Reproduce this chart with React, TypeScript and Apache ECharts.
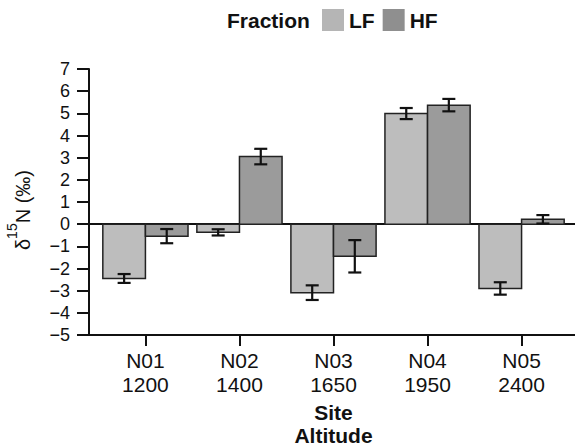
import React, { useEffect, useRef } from "react";
import * as echarts from "echarts";

const sites = ["N01", "N02", "N03", "N04", "N05"];
const altitudes = ["1200", "1400", "1650", "1950", "2400"];
const lfMeans = [-2.45, -0.37, -3.09, 4.99, -2.9];
const lfErrors = [0.2, 0.14, 0.33, 0.25, 0.28];
const hfMeans = [-0.54, 3.05, -1.45, 5.37, 0.22];
const hfErrors = [0.32, 0.35, 0.73, 0.28, 0.19];
const yTicks = { min: -5, max: 7, interval: 1 };

const FONT = "'Liberation Sans', Arial, sans-serif";
const BAR_W = 0.453; // in category units
const CAP_HALF = 6.5; // px

function barSeries(name: string, means: number[], side: number, color: string, withZero: boolean) {
  const data = means.map((v, i) => [i, v]);
  const s: any = {
    name,
    type: "custom",
    data,
    z: 2,
    renderItem: (params: any, api: any) => {
      const x = api.value(0);
      const y = api.value(1);
      const x0 = side < 0 ? x - BAR_W : x;
      const p0 = api.coord([x0, 0]);
      const p1 = api.coord([x0 + BAR_W, y]);
      return {
        type: "rect",
        shape: {
          x: Math.min(p0[0], p1[0]),
          y: Math.min(p0[1], p1[1]),
          width: Math.abs(p1[0] - p0[0]),
          height: Math.abs(p1[1] - p0[1]),
        },
        style: { fill: color, stroke: "#222", lineWidth: 1.5 },
      };
    },
  };
  if (withZero) {
    s.markLine = {
      silent: true,
      symbol: ["none", "none"],
      label: { show: false },
      lineStyle: { color: "#111", width: 2, type: "solid" },
      data: [{ yAxis: 0 }],
      z: 1,
    };
  }
  return s;
}

function errSeries(name: string, means: number[], errs: number[], side: number) {
  return {
    name: name + "err",
    type: "custom",
    z: 5,
    data: means.map((v, i) => [i, v, errs[i]]),
    renderItem: (params: any, api: any) => {
      const x = api.value(0) + (side * BAR_W) / 2;
      const y = api.value(1);
      const e = api.value(2);
      const top = api.coord([x, y + e]);
      const bot = api.coord([x, y - e]);
      const st = { stroke: "#111", lineWidth: 2.2 };
      return {
        type: "group",
        children: [
          { type: "line", shape: { x1: top[0], y1: top[1], x2: bot[0], y2: bot[1] }, style: st },
          { type: "line", shape: { x1: top[0] - CAP_HALF, y1: top[1], x2: top[0] + CAP_HALF, y2: top[1] }, style: st },
          { type: "line", shape: { x1: bot[0] - CAP_HALF, y1: bot[1], x2: bot[0] + CAP_HALF, y2: bot[1] }, style: st },
        ],
      };
    },
  };
}

export default function App() {
  const ref = useRef<HTMLDivElement>(null);
  useEffect(() => {
    if (!ref.current) return;
    const chart = echarts.init(ref.current, undefined, { renderer: "svg" });
    const idx = sites.map((_, i) => i);
    chart.setOption({
      animation: false,
      backgroundColor: "#fff",
      textStyle: { fontFamily: FONT, color: "#111" },
      title: {
        text: "Fraction",
        left: 227,
        top: 9,
        padding: 0,
        textStyle: { fontFamily: FONT, fontSize: 21, fontWeight: "bold", color: "#111", lineHeight: 22 },
      },
      legend: {
        left: 322,
        top: 9,
        padding: 0,
        itemWidth: 22,
        itemHeight: 22,
        itemGap: 8,
        selectedMode: false,
        textStyle: { fontFamily: FONT, fontSize: 21, fontWeight: "bold", color: "#111" },
        data: [
          { name: "LF", icon: "rect", itemStyle: { color: "#b5b5b5", borderWidth: 0 } },
          { name: "HF", icon: "rect", itemStyle: { color: "#8f8f8f", borderWidth: 0 } },
        ],
      },
      grid: { left: 89, top: 69, bottom: 111, right: -3, containLabel: false, outerBoundsMode: "none" },
      xAxis: {
        type: "value",
        min: -0.6,
        max: 4.6,
        splitLine: { show: false },
        axisLine: { onZero: false, lineStyle: { color: "#111", width: 2 } },
        axisTick: { show: true, length: 11, lineStyle: { color: "#111", width: 2 }, customValues: idx },
        axisLabel: {
          customValues: idx,
          margin: 13,
          fontSize: 21,
          lineHeight: 24,
          color: "#111",
          fontFamily: FONT,
          formatter: (v: number) => {
            const i = Math.round(v);
            return Math.abs(v - i) < 1e-6 && i >= 0 && i < sites.length ? sites[i] + "\n" + altitudes[i] : "";
          },
        },
        name: "Site\nAltitude",
        nameLocation: "middle",
        nameGap: 62,
        nameTextStyle: { fontFamily: FONT, fontSize: 21, fontWeight: "bold", color: "#111", lineHeight: 23, verticalAlign: "top" },
      },
      yAxis: {
        type: "value",
        min: yTicks.min,
        max: yTicks.max,
        interval: yTicks.interval,
        splitLine: { show: false },
        axisLine: { show: true, onZero: false, lineStyle: { color: "#111", width: 2 } },
        axisTick: { show: true, length: 12, lineStyle: { color: "#111", width: 2 } },
        axisLabel: {
          margin: 19,
          fontSize: 18,
          color: "#111",
          fontFamily: FONT,
          formatter: (v: number) => String(v).replace("-", "\u2212"),
        },
        name: "{d|δ}{s|15}{d|N (‰)}",
        nameLocation: "middle",
        nameGap: 56,
        nameRotate: 90,
        nameTextStyle: {
          fontFamily: FONT,
          color: "#111",
          padding: [0, 16, 0, 0],
          rich: {
            d: { fontFamily: FONT, fontSize: 20, lineHeight: 28, color: "#111", verticalAlign: "bottom" },
            s: { fontFamily: FONT, fontSize: 14, lineHeight: 14, color: "#111", verticalAlign: "top" },
          },
        },
      },
      series: [
        barSeries("LF", lfMeans, -1, "#bdbdbd", true),
        barSeries("HF", hfMeans, 1, "#9b9b9b", false),
        errSeries("LF", lfMeans, lfErrors, -1),
        errSeries("HF", hfMeans, hfErrors, 1),
      ],
    });
    return () => chart.dispose();
  }, []);
  return <div ref={ref} style={{ position: "fixed", left: 0, top: 0, width: 575, height: 446 }} />;
}
